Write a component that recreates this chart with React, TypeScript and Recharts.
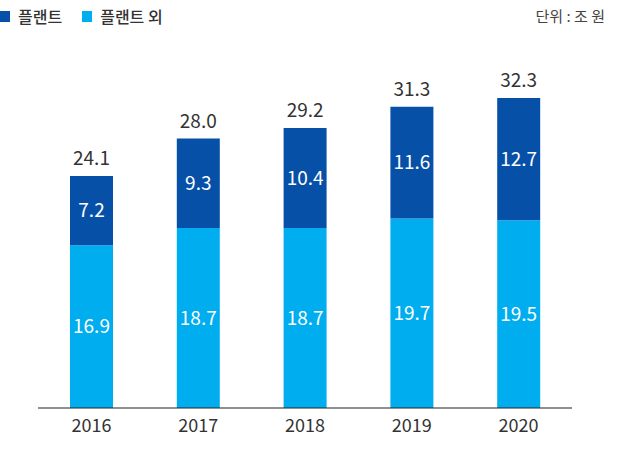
import { BarChart, Bar, XAxis, YAxis, LabelList } from "recharts";

const years = ["2016", "2017", "2018", "2019", "2020"];
const plant = [7.2, 9.3, 10.4, 11.6, 12.7];
const nonPlant = [16.9, 18.7, 18.7, 19.7, 19.5];
const totals = [24.1, 28.0, 29.2, 31.3, 32.3];

const DARK = "#0750a8";
const LIGHT = "#00aeef";
const FONT = "'Noto Sans CJK KR', 'Noto Sans', sans-serif";

const data = years.map((y, i) => ({
    year: y,
    nonPlant: nonPlant[i],
    plant: plant[i],
    total: totals[i],
}));

const fmt = (v: number) => v.toFixed(1);

const App = () => {
    return (
        <div style={{ position: "absolute", top: 0, left: 0, width: 617, height: 467, fontFamily: FONT }}>
            {/* legend + unit, top row */}
            <div
                style={{
                    position: "absolute",
                    left: 0,
                    top: 4,
                    display: "flex",
                    alignItems: "center",
                    fontSize: 16,
                    fontWeight: 500,
                    color: "#333",
                }}
            >
                <span style={{ width: 10, height: 11, background: DARK, display: "inline-block", marginRight: 8 }} />
                <span style={{ marginRight: 20 }}>플랜트</span>
                <span style={{ width: 10, height: 11, background: LIGHT, display: "inline-block", marginRight: 8 }} />
                <span>플랜트 외</span>
            </div>
            <div style={{ position: "absolute", right: 12, top: 5, fontSize: 15, color: "#444" }}>
                단위 : 조 원
            </div>
            <BarChart
                width={617}
                height={467}
                data={data}
                margin={{ top: 23, right: 45, bottom: 19, left: 38 }}
                barSize={43}
            >
                <XAxis
                    dataKey="year"
                    height={40}
                    tickLine={false}
                    axisLine={{ stroke: "#222", strokeWidth: 1.2 }}
                    tick={{ fill: "#333", fontSize: 18, fontFamily: FONT }}
                    tickMargin={5}
                />
                <YAxis hide domain={[0, 40]} />
                <Bar dataKey="nonPlant" stackId="a" fill={LIGHT} isAnimationActive={false}>
                    <LabelList
                        dataKey="nonPlant"
                        position="center"
                        fill="#fff"
                        fontSize={19}
                        fontFamily={FONT}
                        formatter={fmt}
                    />
                </Bar>
                <Bar dataKey="plant" stackId="a" fill={DARK} isAnimationActive={false}>
                    <LabelList
                        dataKey="plant"
                        position="center"
                        fill="#fff"
                        fontSize={19}
                        fontFamily={FONT}
                        formatter={fmt}
                    />
                    <LabelList
                        dataKey="total"
                        position="top"
                        offset={11}
                        fill="#333"
                        fontSize={19}
                        fontFamily={FONT}
                        formatter={fmt}
                    />
                </Bar>
            </BarChart>
        </div>
    );
};

export default App;
